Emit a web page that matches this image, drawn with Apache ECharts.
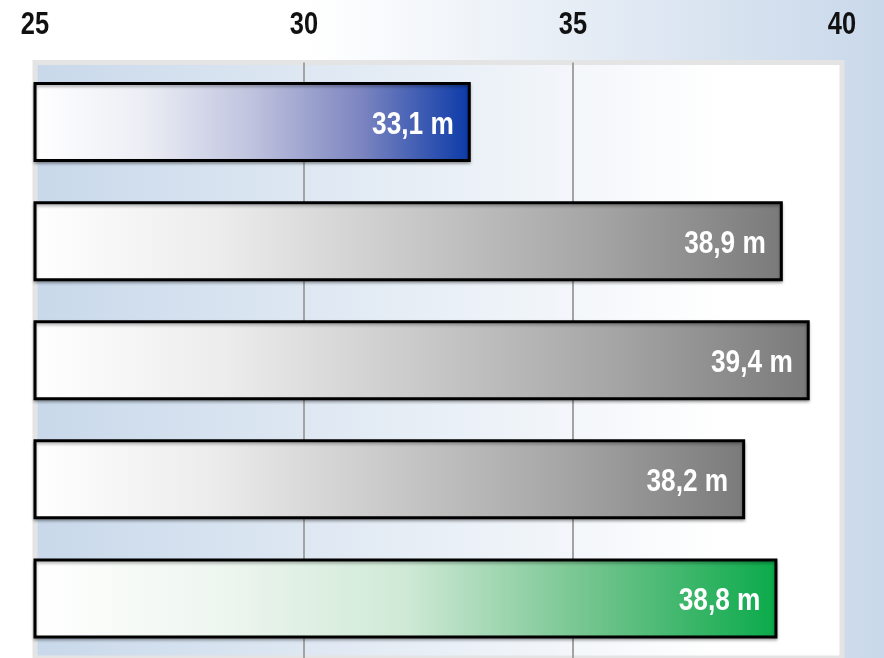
<!DOCTYPE html>
<html>
<head>
<meta charset="utf-8">
<script src="https://cdn.jsdelivr.net/npm/echarts@6/dist/echarts.min.js"></script>
<style>
html,body{margin:0;padding:0;background:#fff;}
#chart{width:884px;height:658px;}
</style>
</head>
<body>
<div id="chart"></div>
<script>
var categories = ['A', 'B', 'C', 'D', 'E'];
var values = [33.1, 38.9, 39.4, 38.2, 38.8];
var tickMin = 25, tickMax = 40, tickStep = 5;
var tickLabels = [25, 30, 35, 40];

// gradient stops per bar (white -> colour)
var blueStops = ['#ffffff', '#eceef5', '#bfc3de', '#7c85c0', '#0b3aa8'];
var grayStops = ['#ffffff', '#ececec', '#c9c9c9', '#a5a5a5', '#7a7a7a'];
var greenStops = ['#ffffff', '#eef6f0', '#cfe9d6', '#72c48d', '#0aaa4a'];
var barStops = [blueStops, grayStops, grayStops, grayStops, greenStops];

var FONT = '"Liberation Sans", Arial, sans-serif';
var NARROW = 0.82;

function grad(stops) {
  return {
    type: 'linear', x: 0, y: 0, x2: 1, y2: 0,
    colorStops: stops.map(function (c, i) {
      return { offset: i / (stops.length - 1), color: c };
    })
  };
}

function fmt(v) { return v.toFixed(1).replace('.', ',') + ' m'; }

var chart = echarts.init(document.getElementById('chart'));
chart.setOption({
  animation: false,
  backgroundColor: {
    type: 'linear', x: 0, y: 0, x2: 1, y2: 0,
    colorStops: [
      { offset: 0, color: '#ffffff' },
      { offset: 0.35, color: '#ffffff' },
      { offset: 1, color: '#c9d8ea' }
    ]
  },
  grid: {
    left: 35, right: 42, top: 62.5, height: 600,
    show: true,
    borderColor: '#e4e4e4',
    borderWidth: 5,
    backgroundColor: {
      type: 'linear', x: 0, y: 0, x2: 1, y2: 0,
      colorStops: [
        { offset: 0, color: '#c8d8ea' },
        { offset: 0.85, color: '#ffffff' },
        { offset: 1, color: '#ffffff' }
      ]
    }
  },
  xAxis: {
    type: 'value',
    position: 'top',
    min: tickMin, max: tickMax, interval: tickStep,
    axisLine: { show: false },
    axisTick: { show: false },
    axisLabel: { show: false },
    splitLine: {
      show: true, showMinLine: false, showMaxLine: false,
      lineStyle: { color: '#a3a3a3', width: 2 }
    }
  },
  yAxis: {
    type: 'category',
    data: categories,
    inverse: true,
    show: false
  },
  series: [{
    type: 'bar',
    barWidth: 80,
    data: values.map(function (v, i) {
      return {
        value: v,
        itemStyle: {
          color: grad(barStops[i]),
          borderColor: '#000',
          borderWidth: 3,
          shadowColor: 'rgba(0,0,0,0.3)',
          shadowBlur: 3,
          shadowOffsetY: 2
        }
      };
    }),
    label: { show: false }
  }, {
    // bar value labels (condensed bold text)
    type: 'custom',
    z: 5,
    silent: true,
    data: values.map(function (v, i) { return [v, i]; }),
    encode: { x: 0, y: 1 },
    renderItem: function (params, api) {
      var p = api.coord([api.value(0), api.value(1)]);
      return {
        type: 'text',
        x: p[0] - 17,
        y: p[1] + 3,
        scaleX: NARROW,
        style: {
          text: fmt(api.value(0)),
          fill: '#ffffff',
          font: 'bold 32px ' + FONT,
          align: 'right',
          verticalAlign: 'middle'
        }
      };
    }
  }, {
    // axis tick labels (condensed bold text) above the plot
    type: 'custom',
    z: 5,
    silent: true,
    clip: false,
    data: tickLabels.map(function (t) { return [t, 0]; }),
    encode: { x: 0, y: 1 },
    renderItem: function (params, api) {
      var p = api.coord([api.value(0), 0]);
      return {
        type: 'text',
        x: p[0],
        y: params.coordSys.y - 37,
        scaleX: NARROW,
        style: {
          text: String(api.value(0)),
          fill: '#111111',
          font: 'bold 31px ' + FONT,
          align: 'center',
          verticalAlign: 'middle'
        }
      };
    }
  }]
});
</script>
</body>
</html>
